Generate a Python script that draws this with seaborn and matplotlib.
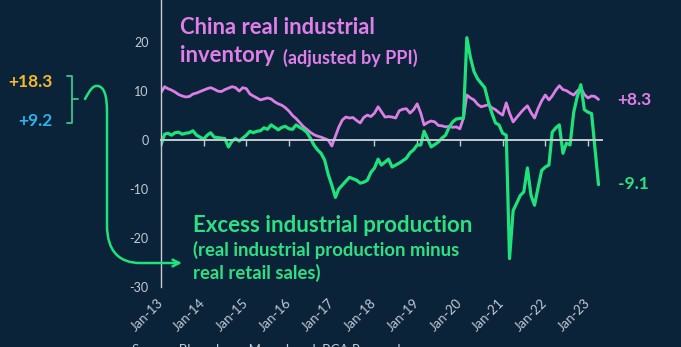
import numpy as np
import pandas as pd
import matplotlib
matplotlib.use("Agg")
import matplotlib.pyplot as plt
import seaborn as sns
from matplotlib.path import Path
from matplotlib.patches import FancyArrowPatch
from matplotlib.lines import Line2D

# ---------------- data ----------------
start_month = "2013-01-01"
inventory = [
    9.7, 10.9, 10.5, 10.2, 9.8, 9.3, 9.0, 8.8, 8.9, 9.4, 9.6, 9.9,
    10.2, 10.5, 10.7, 10.4, 10.0, 9.9, 10.3, 10.6, 10.9, 10.7, 10.0, 10.7,
    10.5, 9.4, 9.0, 8.6, 8.2, 8.4, 8.6, 8.4, 7.8, 7.4, 7.1, 6.6,
    5.9, 5.0, 4.4, 3.6, 2.8, 2.2, 1.6, 1.1, 0.8, 0.6, 0.3, 0.0,
    -1.2, 0.8, 2.6, 4.1, 4.7, 4.5, 4.6, 4.0, 3.5, 4.6, 5.1, 4.8,
    5.5, 6.8, 5.8, 4.7, 4.8, 4.7, 4.5, 6.0, 6.3, 6.4, 5.5, 6.2,
    7.4, 5.5, 3.1, 3.6, 3.9, 3.7, 3.0, 2.9, 2.7, 2.8, 2.6, 2.7,
    2.3, 4.5, 9.2, 8.6, 8.2, 7.3, 6.8, 7.0, 7.2, 6.6, 6.2, 5.6,
    5.1, 7.6, 5.5, 3.7, 4.6, 5.5, 6.3, 7.0, 5.6, 4.5, 6.5, 8.0,
    9.2, 8.2, 9.0, 10.2, 11.1, 10.3, 10.1, 9.6, 9.2, 10.0, 10.7, 9.3,
    8.6, 9.0, 8.9, 8.3,
]
excess_ip = [
    -1.0, 1.2, 1.4, 1.0, 1.5, 1.6, 1.2, 1.4, 1.5, 1.9, 1.0, 0.6,
    0.2, 1.0, 1.5, 0.6, 0.5, 0.4, 0.3, -1.4, -0.2, 0.3, -0.2, 0.4,
    1.0, 1.8, 1.5, 1.8, 1.9, 2.5, 2.2, 3.1, 2.6, 2.1, 2.6, 2.8,
    2.3, 2.2, 3.1, 2.6, 2.2, 1.6, 0.4, -1.0, -2.0, -2.7, -4.1, -7.0,
    -9.2, -11.7, -10.0, -9.2, -8.4, -7.6, -7.9, -8.2, -8.8, -8.6, -8.2, -6.6,
    -5.7, -3.9, -5.1, -4.5, -3.9, -5.5, -5.1, -4.7, -4.2, -3.7, -2.6, -2.0,
    -1.0, -1.0, 1.8, 0.2, -1.4, -0.9, -0.4, 0.4, 1.0, 2.6, 3.7, 4.3,
    4.4, 4.5, 20.9, 16.8, 14.0, 12.5, 11.6, 10.7, 7.8, 5.5, 3.5, 3.1,
    1.4, 1.0, -24.2, -14.4, -12.9, -11.3, -10.6, -5.7, -11.3, -13.3, -9.6, -6.2,
    -5.5, -5.1, 1.6, 2.5, 3.1, -2.7, -0.6, -1.0, 5.7, 8.8, 11.3, 6.2,
    5.7, 5.4, -1.5, -9.1,
]
tick_years = list(range(2013, 2024))
tick_labels = [f"Jan-{y % 100:02d}" for y in tick_years]
y_ticks = [-30, -20, -10, 0, 10, 20]
last_inventory_label = "+8.3"
last_excess_label = "-9.1"
spread_high_label = "+18.3"
spread_low_label = "+9.2"

dates = pd.date_range(start_month, periods=len(inventory), freq="MS")
df = pd.DataFrame({"date": dates, "inventory": inventory, "excess": excess_ip})

# ---------------- style ----------------
BG = "#0b2339"
PINK = "#dc7fe4"
PINK_T = "#e07fe9"
GREEN = "#1fe27b"
GREEN_T = "#2fe083"
AXC = "#c3cad2"
ORANGE = "#f6b82c"
BLUE = "#2bb3ea"
BRACKET = "#3cc48c"

sns.set_theme(style="dark", rc={"axes.facecolor": BG, "figure.facecolor": BG})
plt.rcParams["font.family"] = ["Lato", "DejaVu Sans"]

W, H = 681, 347
fig = plt.figure(figsize=(W / 100, H / 100), dpi=100)
fig.patch.set_facecolor(BG)
ax = fig.add_axes([161 / W, 60 / H, (602 - 161) / W, 287 / H])
ax.set_facecolor(BG)

sns.lineplot(data=df, x="date", y="inventory", ax=ax, color=PINK, linewidth=2.0)
sns.lineplot(data=df, x="date", y="excess", ax=ax, color=GREEN, linewidth=2.3)

ax.set_xlim(pd.Timestamp("2013-01-01"), pd.Timestamp("2023-05-01"))
ax.set_ylim(-30, 28.6)
ax.set_xlabel("")
ax.set_ylabel("")
ax.grid(False)

for s in ["top", "right"]:
    ax.spines[s].set_visible(False)
ax.spines["left"].set_color(AXC)
ax.spines["left"].set_linewidth(1.0)
ax.spines["bottom"].set_position(("data", 0))
ax.spines["bottom"].set_color(AXC)
ax.spines["bottom"].set_linewidth(1.4)

tick_dates = [pd.Timestamp(f"{y}-01-01") for y in tick_years]
ax.set_xticks(tick_dates)
ax.tick_params(axis="x", direction="out", length=4, width=1, color=AXC,
               labelbottom=False, bottom=True)
ax.set_yticks(y_ticks)
ax.set_yticklabels([str(v) for v in y_ticks])
ax.tick_params(axis="y", length=0, pad=9, labelsize=9, labelcolor=AXC)

sec = ax.secondary_xaxis("bottom")
sec.set_xticks(tick_dates)
sec.set_xticklabels(tick_labels, rotation=45, ha="right", va="center",
                    rotation_mode="anchor")
sec.tick_params(axis="x", length=0, pad=10, labelsize=9.5, labelcolor=AXC)
sec.spines["bottom"].set_visible(False)


def P(x, y):
    return (x / W, 1 - y / H)


# series titles
fig.text(*P(180, 28), "China real industrial", color=PINK_T, fontsize=15.8,
         weight="bold", ha="left", va="center")
fig.text(*P(180, 56), "inventory", color=PINK_T, fontsize=15.8,
         weight="bold", ha="left", va="center")
fig.text(*P(283, 58), "(adjusted by PPI)", color=PINK_T, fontsize=13,
         weight="bold", ha="left", va="center")

fig.text(*P(193, 225), "Excess industrial production", color=GREEN_T,
         fontsize=16, weight="bold", ha="left", va="center")
fig.text(*P(193, 250), "(real industrial production minus", color=GREEN_T,
         fontsize=13.3, weight="bold", ha="left", va="center")
fig.text(*P(193, 273), "real retail sales)", color=GREEN_T,
         fontsize=13.3, weight="bold", ha="left", va="center")

# end labels
fig.text(*P(617, 100), last_inventory_label, color=PINK_T, fontsize=12.5,
         weight="bold", ha="left", va="center")
fig.text(*P(618, 184), last_excess_label, color=GREEN_T, fontsize=12.5,
         weight="bold", ha="left", va="center")

# left spread labels
fig.text(*P(53, 82), spread_high_label, color=ORANGE, fontsize=12.5,
         weight="bold", ha="right", va="center")
fig.text(*P(53, 121), spread_low_label, color=BLUE, fontsize=12.5,
         weight="bold", ha="right", va="center")

# bracket
bx = [P(67, 76), P(72, 76), P(72, 123), P(67, 123)]
fig.add_artist(Line2D([p[0] for p in bx], [p[1] for p in bx],
                      color=BRACKET, lw=1.3, transform=fig.transFigure))
m = [P(72, 99), P(78, 99)]
fig.add_artist(Line2D([p[0] for p in m], [p[1] for p in m],
                      color=BRACKET, lw=1.3, transform=fig.transFigure))

# curved arrow
verts = [P(85, 99), P(90, 90), P(93, 85), P(98, 86),
         P(104, 87), P(107, 95), P(107, 112),
         P(107, 225),
         P(107, 252), P(120, 263), P(140, 263),
         P(182, 263)]
codes = [Path.MOVETO, Path.CURVE4, Path.CURVE4, Path.CURVE4,
         Path.CURVE4, Path.CURVE4, Path.CURVE4,
         Path.LINETO,
         Path.CURVE4, Path.CURVE4, Path.CURVE4,
         Path.LINETO]
arrow = FancyArrowPatch(path=Path(verts, codes), arrowstyle="->",
                        mutation_scale=12, color=GREEN, lw=1.8,
                        transform=fig.transFigure)
fig.add_artist(arrow)

# source (cut at bottom edge as in the original)
fig.text(*P(132, 344), "Source: Bloomberg, Macrobond, BCA Research",
         color=AXC, fontsize=9.5, ha="left", va="top")

fig.savefig("out.png", dpi=100, facecolor=BG)
